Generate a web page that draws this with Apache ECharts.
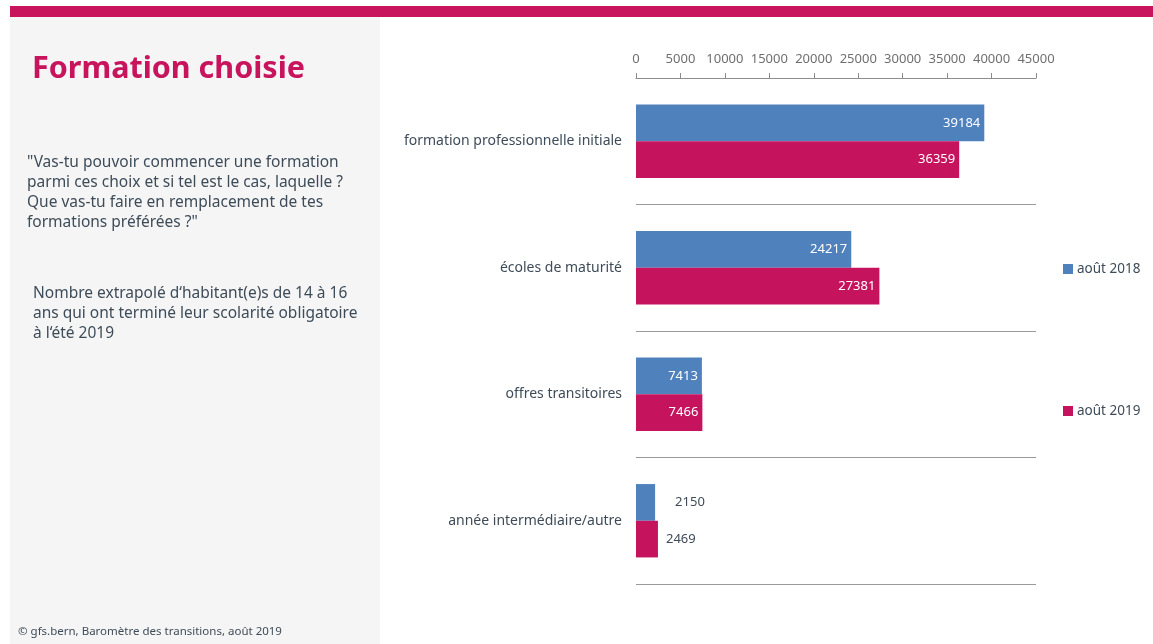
<!DOCTYPE html>
<html>
<head>
<meta charset="utf-8">
<script src="https://cdn.jsdelivr.net/npm/echarts@6/dist/echarts.min.js"></script>
<style>
html,body{margin:0;padding:0;background:#fff;}
#chart{width:1153px;height:644px;}
</style>
</head>
<body>
<div id="chart"></div>
<script>
const categories = ["formation professionnelle initiale", "écoles de maturité", "offres transitoires", "année intermédiaire/autre"];
const seriesNames = ["août 2018", "août 2019"];
const values2018 = [39184, 24217, 7413, 2150];
const values2019 = [36359, 27381, 7466, 2469];
const axisTicks = [0, 5000, 10000, 15000, 20000, 25000, 30000, 35000, 40000, 45000];

const titleText = "Formation choisie";
const questionLines = ["\"Vas-tu pouvoir commencer une formation", "parmi ces choix et si tel est le cas, laquelle ?", "Que vas-tu faire en remplacement de tes", "formations préférées ?\""];
const noteLines = ["Nombre extrapolé d‘habitant(e)s de 14 à 16", "ans qui ont terminé leur scolarité obligatoire", "à l‘été 2019"];
const sourceText = "© gfs.bern, Baromètre des transitions, août 2019";

const BLUE = '#4f81bd';
const MAGENTA = '#c6135e';
const TEXT = '#3e4c59';
const FONT = "'Noto Sans', 'Open Sans', sans-serif";

// small bars whose labels sit outside the bar
function makeData(vals, smallDist) {
  return vals.map((v) => {
    if (v < 5000) {
      return { value: v, label: { position: 'right', color: TEXT, distance: smallDist } };
    }
    return v;
  });
}

const chart = echarts.init(document.getElementById('chart'), null, { renderer: 'canvas' });

const graphic = [
  { type: 'rect', shape: { x: 10, y: 17, width: 370, height: 627 }, style: { fill: '#f5f5f5' }, z: -10 },
  { type: 'rect', shape: { x: 10, y: 6, width: 1143, height: 11 }, style: { fill: '#c8135d' }, z: -5 },
  { type: 'text', left: 32, top: 54, style: { text: titleText, fill: '#c8135d', font: "bold 30.5px " + FONT } },
  { type: 'text', left: 27, top: 153, style: { text: questionLines.join('\n'), fill: TEXT, font: "15.5px " + FONT, lineHeight: 20 } },
  { type: 'text', left: 33, top: 284, style: { text: noteLines.join('\n'), fill: TEXT, font: "15.5px " + FONT, lineHeight: 20 } },
  { type: 'text', left: 18, top: 626, style: { text: sourceText, fill: TEXT, font: "11.5px " + FONT } }
];

chart.setOption({
  animation: false,
  backgroundColor: '#fff',
  textStyle: { fontFamily: FONT },
  graphic: graphic,
  legend: {
    orient: 'vertical',
    left: 1058,
    top: 257,
    itemWidth: 10,
    itemHeight: 10,
    itemGap: 128,
    itemStyle: { borderWidth: 0 },
    icon: 'rect',
    textStyle: { color: TEXT, fontSize: 13.5, fontFamily: FONT, padding: [0, 0, 0, -1] },
    data: seriesNames
  },
  grid: { left: 636, right: 117, top: 78, bottom: 60, containLabel: false },
  xAxis: {
    type: 'value',
    position: 'top',
    min: 0,
    max: 45000,
    interval: 5000,
    axisLine: { show: true, lineStyle: { color: '#8c8c8c' } },
    axisTick: { show: true, length: 5, inside: false, lineStyle: { color: '#8c8c8c' } },
    splitLine: { show: false },
    axisLabel: {
      color: '#6f6f6f', fontSize: 13, margin: 12, fontFamily: FONT,
      formatter: v => axisTicks.includes(v) ? String(v) : ''
    }
  },
  yAxis: {
    type: 'category',
    inverse: true,
    data: categories,
    axisLine: { show: false },
    axisTick: { show: false },
    splitLine: { show: true, lineStyle: { color: '#999', width: 1 } },
    axisLabel: { color: TEXT, fontSize: 14, margin: 14, fontFamily: FONT }
  },
  series: [
    {
      name: seriesNames[0], type: 'bar', data: makeData(values2018, 20),
      itemStyle: { color: BLUE },
      barGap: '0%', barCategoryGap: '42%',
      label: { show: true, position: 'insideRight', color: '#fff', fontSize: 13, distance: 4, fontFamily: FONT }
    },
    {
      name: seriesNames[1], type: 'bar', data: makeData(values2019, 8),
      itemStyle: { color: MAGENTA },
      barGap: '0%', barCategoryGap: '42%',
      label: { show: true, position: 'insideRight', color: '#fff', fontSize: 13, distance: 4, fontFamily: FONT }
    }
  ]
});
</script>
</body>
</html>
